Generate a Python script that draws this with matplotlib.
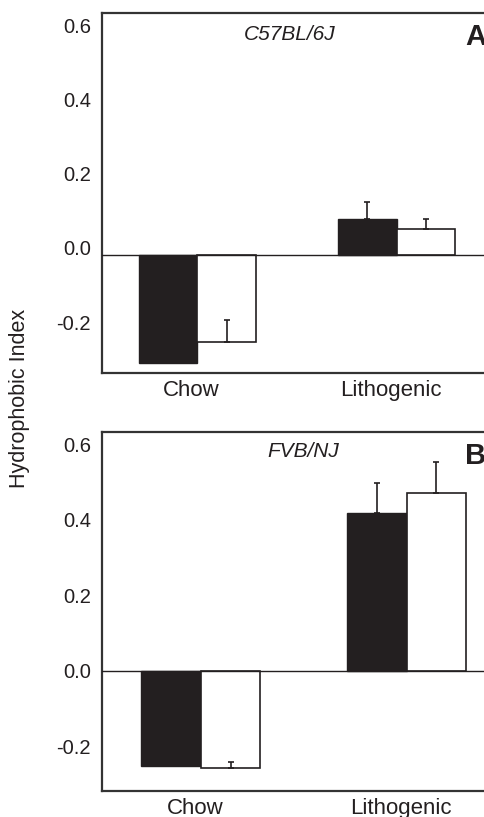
import matplotlib
matplotlib.use("Agg")
import matplotlib.pyplot as plt
from matplotlib.transforms import ScaledTranslation
import numpy as np

plt.rcParams['font.family'] = ['Liberation Sans', 'DejaVu Sans']

diets = ["Chow", "Lithogenic"]
strains = ["C57BL/6J", "FVB/NJ"]
panel_tags = ["A", "B"]

# hydrophobic index, black bars / white bars, per strain
black_vals = [[-0.290, 0.098], [-0.253, 0.419]]
black_err = [[0.0, 0.044], [0.0, 0.078]]
white_vals = [[-0.235, 0.071], [-0.259, 0.472]]
white_err = [[0.060, 0.026], [0.018, 0.081]]

yticks = [-0.2, 0.0, 0.2, 0.4, 0.6]

fig = plt.figure(figsize=(4.85, 8.17), dpi=100)

# per-panel layout (figure fractions) and limits
rects = [[0.2103, 0.5431, 0.80, 0.4406], [0.2103, 0.0322, 0.80, 0.4394]]
ylims = [(-0.319, 0.651), (-0.318, 0.634)]
xlims = [(-0.478, 1.468), (-0.481, 1.405)]
widths = [0.293, 0.289]
label_shift = [7, 0]   # tick labels in panel A sit a bit above their values
strain_pos = [(0.485, 0.94), (0.518, 0.944)]

for i in range(2):
    ax = fig.add_axes(rects[i])
    x = np.arange(len(diets))
    w = widths[i]
    ax.bar(x - w / 2, black_vals[i], w, color="#231f20", edgecolor="#231f20",
           linewidth=1, zorder=2)
    ax.bar(x + w / 2, white_vals[i], w, color="white", edgecolor="#231f20",
           linewidth=1.2, zorder=2)
    ax.errorbar(x - w / 2, black_vals[i], yerr=[np.zeros(2), black_err[i]],
                fmt="none", ecolor="#231f20", elinewidth=1.2, capsize=2,
                capthick=1.2, zorder=4)
    ax.errorbar(x + w / 2, white_vals[i], yerr=[np.zeros(2), white_err[i]],
                fmt="none", ecolor="#231f20", elinewidth=1.2, capsize=2,
                capthick=1.2, zorder=4)
    ax.axhline(0, color="#231f20", linewidth=1, zorder=3)

    ax.set_xlim(*xlims[i])
    ax.set_ylim(*ylims[i])
    ax.set_yticks(yticks)
    ax.set_yticklabels(["%.1f" % v for v in yticks])
    ax.set_xticks(x)
    ax.set_xticklabels(diets, fontsize=16)
    ax.tick_params(axis="y", length=0, pad=8, labelsize=14.5, colors="#231f20")
    ax.tick_params(axis="x", length=0, pad=5, colors="#231f20")
    for lab in ax.get_yticklabels():
        lab.set_transform(lab.get_transform() +
                          ScaledTranslation(0, label_shift[i] / 100., fig.dpi_scale_trans))
    for lab in ax.get_xticklabels():
        lab.set_transform(lab.get_transform() +
                          ScaledTranslation(-6 / 100., 0, fig.dpi_scale_trans))

    for s in ["left", "bottom", "top"]:
        ax.spines[s].set_linewidth(1.6)
        ax.spines[s].set_color("#333333")
    ax.spines["right"].set_visible(False)

    ax.text(strain_pos[i][0], strain_pos[i][1], strains[i], transform=ax.transAxes,
            ha="center", va="center", fontsize=15, style="italic", color="#231f20")
    ax.text(0.936, 0.972, panel_tags[i], transform=ax.transAxes, ha="left", va="top",
            fontsize=21, fontweight="bold", color="#231f20")

fig.text(0.041, 0.512, "Hydrophobic Index", rotation=90, ha="center", va="center",
         fontsize=15.5, color="#231f20")

fig.savefig("out.png", dpi=100)
